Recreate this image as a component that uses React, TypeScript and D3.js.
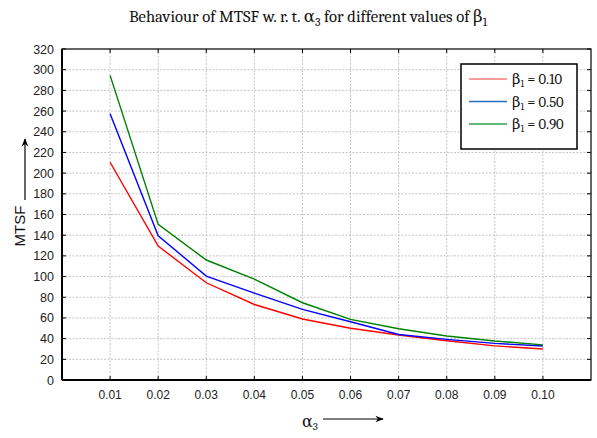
import React from "react";
import * as d3 from "d3";

const alpha3 = [0.01, 0.02, 0.03, 0.04, 0.05, 0.06, 0.07, 0.08, 0.09, 0.10];
const beta010 = [210.5, 129.5, 94, 73, 59, 50, 43.5, 38, 33, 30];
const beta050 = [257.5, 139.5, 100.5, 84, 68.3, 56.3, 44, 39.3, 35.4, 32.8];
const beta090 = [294.5, 150.4, 116, 97.5, 74.7, 58.6, 49.6, 42.5, 37.7, 34];
const seriesNames = ["0.10", "0.50", "0.90"];
const seriesColors = ["#ff0000", "#0000ff", "#008000"];
const legendColors = ["#ff7a7a", "#2a6cc0", "#2fa050"];
const yTicks = [0, 20, 40, 60, 80, 100, 120, 140, 160, 180, 200, 220, 240, 260, 280, 300, 320];
const xTickLabels = ["0.01", "0.02", "0.03", "0.04", "0.05", "0.06", "0.07", "0.08", "0.09", "0.10"];

const W = 597, H = 438;
const L = 62, R = 591, T = 49, B = 380;

export default function App() {
  const x = d3.scaleLinear().domain([0, 0.11]).range([L, R]);
  const y = d3.scaleLinear().domain([0, 320]).range([B, T]);
  const series = [beta010, beta050, beta090];
  const line = d3.line<number>().x((_, i) => x(alpha3[i])).y((d) => y(d));
  const serif = "Cambria, 'DejaVu Serif', 'Liberation Serif', serif";
  const sans = "'Liberation Sans', Arial, sans-serif";

  return (
    <svg width={W} height={H} style={{ position: "fixed", left: 0, top: 0, background: "#fff" }}>
      <rect x={0} y={0} width={W} height={H} fill="#fff" />
      <defs>
        <marker id="arr" viewBox="0 0 10 10" refX="9" refY="5" markerWidth="7" markerHeight="7" orient="auto">
          <path d="M0,1 L10,5 L0,9 L3,5 z" fill="#000" />
        </marker>
      </defs>
      <text x={308} y={22} textAnchor="middle" fontFamily={serif} fontSize={16.6} fill="#111">
        Behaviour of MTSF w. r. t. α<tspan fontSize={12} dy={4}>3</tspan>
        <tspan dy={-4}> for different values of β</tspan>
        <tspan fontSize={12} dy={4}>1</tspan>
      </text>
      {/* grid */}
      {yTicks.filter((t) => t > 0 && t < 320).map((t) => (
        <line key={"gy" + t} x1={L} x2={R} y1={y(t)} y2={y(t)} stroke="#c4c4c4" strokeDasharray="2,1.5" />
      ))}
      {alpha3.map((a) => (
        <line key={"gx" + a} x1={x(a)} x2={x(a)} y1={T} y2={B} stroke="#c4c4c4" strokeDasharray="2,1.5" />
      ))}
      {/* series */}
      {series.map((s, i) => (
        <path key={i} d={line(s) || ""} fill="none" stroke={seriesColors[i]} strokeWidth={1.4} />
      ))}
      {/* frame */}
      <rect x={L} y={T} width={R - L} height={B - T} fill="none" stroke="#000" strokeWidth={1.2} />
      <line x1={L} x2={L} y1={T} y2={B} stroke="#000" strokeWidth={2} />
      <line x1={L} x2={R} y1={B} y2={B} stroke="#000" strokeWidth={2} />
      {/* ticks */}
      {alpha3.map((a) => (
        <g key={"tx" + a}>
          <line x1={x(a)} x2={x(a)} y1={B} y2={B - 4} stroke="#000" />
          <line x1={x(a)} x2={x(a)} y1={T} y2={T + 4} stroke="#000" />
        </g>
      ))}
      {yTicks.map((t) => (
        <g key={"ty" + t}>
          <line x1={L} x2={L + 4} y1={y(t)} y2={y(t)} stroke="#000" />
          <line x1={R} x2={R - 4} y1={y(t)} y2={y(t)} stroke="#000" />
        </g>
      ))}
      {/* tick labels */}
      {yTicks.map((t) => (
        <text key={"ly" + t} x={L - 8} y={y(t) + 4.5} textAnchor="end" fontFamily={sans} fontSize={12.5} fill="#222">
          {t}
        </text>
      ))}
      {alpha3.map((a, i) => (
        <text key={"lx" + a} x={x(a)} y={B + 19} textAnchor="middle" fontFamily={sans} fontSize={12} fill="#222">
          {xTickLabels[i]}
        </text>
      ))}
      {/* y label */}
      <text transform="translate(25,226) rotate(-90)" textAnchor="middle" fontFamily={sans} fontSize={15} fill="#111">
        MTSF
      </text>
      <line x1={25} x2={25} y1={200} y2={139} stroke="#000" strokeWidth={1.2} markerEnd="url(#arr)" />
      {/* x label */}
      <text x={310} y={427} textAnchor="middle" fontFamily={serif} fontSize={16} fill="#111">
        α<tspan fontSize={11} dy={3}>3</tspan>
      </text>
      <line x1={323} x2={383} y1={419} y2={419} stroke="#000" strokeWidth={1.2} markerEnd="url(#arr)" />
      {/* legend */}
      <rect x={461} y={64} width={116} height={85} fill="#fff" stroke="#000" strokeWidth={1.5} />
      {seriesNames.map((n, i) => (
        <g key={n}>
          <line x1={469} x2={507} y1={79 + i * 22.5} y2={79 + i * 22.5} stroke={legendColors[i]} strokeWidth={1.6} />
          <text x={512} y={84 + i * 22.5} fontFamily={serif} fontSize={14.6} fill="#111">
            β<tspan fontSize={10} dy={3}>1</tspan>
            <tspan dy={-3}> = {n}</tspan>
          </text>
        </g>
      ))}
    </svg>
  );
}
